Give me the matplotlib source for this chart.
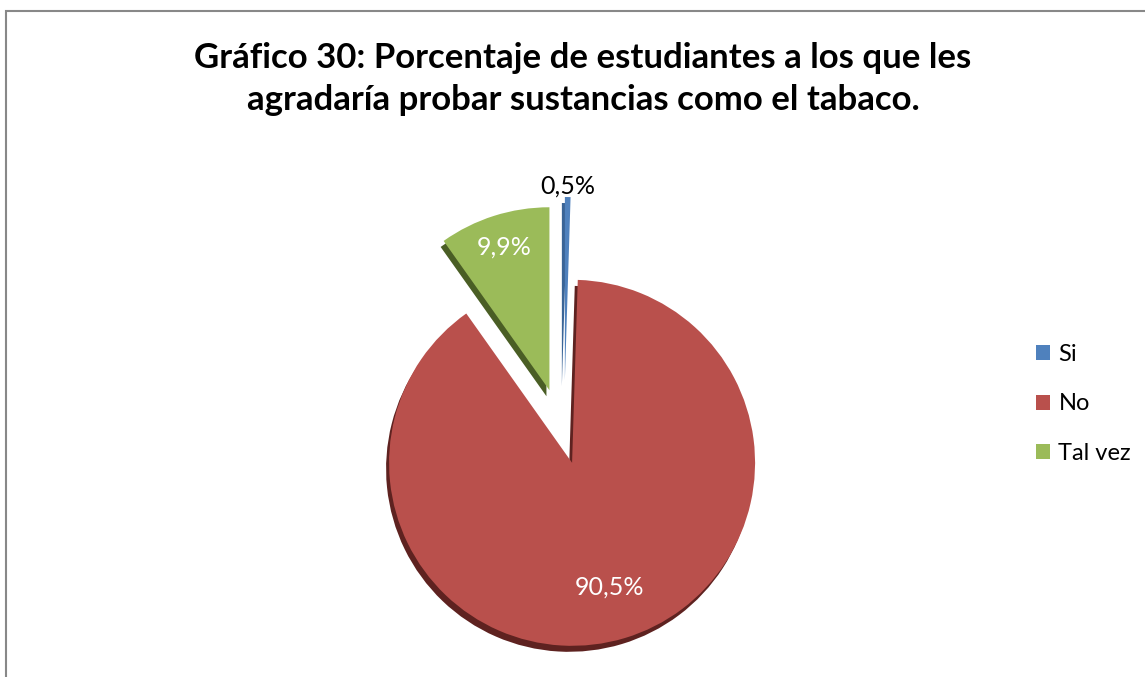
import numpy as np
import matplotlib.pyplot as plt
from matplotlib.patches import Rectangle

plt.rcParams['font.family'] = ['Lato', 'DejaVu Sans']

categories = ['Si', 'No', 'Tal vez']
values = [0.5, 90.5, 9.9]
labels = ['0,5%', '90,5%', '9,9%']
colors = ['#4F81BD', '#B9504C', '#9BBB59']
side_colors = ['#3A6496', '#5E2220', '#4A5E25']
explode = [56, 28, 48]          # in pixels
label_dist = [1.06, 0.71, 0.82]
label_colors = ['black', 'white', 'white']
title = 'Gráfico 30: Porcentaje de estudiantes a los que les\nagradaría probar sustancias como el tabaco.'

W, H = 1145, 677
fig = plt.figure(figsize=(W / 100, H / 100), dpi=100)
ax = fig.add_axes([0, 0, 1, 1])

center = (564, H - 436)
r = 183

# darker copy underneath for the 3d edge
ax.pie(values, colors=side_colors, explode=explode, radius=r,
       center=(center[0] - 3, center[1] - 6), startangle=90, counterclock=False,
       wedgeprops=dict(linewidth=0), frame=True)
wedges, _ = ax.pie(values, colors=colors, explode=explode, radius=r, center=center,
                   startangle=90, counterclock=False,
                   wedgeprops=dict(linewidth=0), frame=True)

for w, lab, d, c in zip(wedges, labels, label_dist, label_colors):
    thm = np.deg2rad((w.theta1 + w.theta2) / 2)
    cx, cy = w.center
    ax.text(cx + d * r * np.cos(thm), cy + d * r * np.sin(thm), lab,
            ha='center', va='center', fontsize=18, color=c)

ax.set_xlim(0, W)
ax.set_ylim(0, H)
ax.axis('off')

fig.text(583 / W, 1 - 79 / H, title, ha='center', va='center', fontsize=25,
         fontweight='bold', linespacing=1.4)

leg = fig.legend(wedges, categories, loc='center left', bbox_to_anchor=(1036 / W, 1 - 404 / H),
                 frameon=False, fontsize=17, handlelength=0.6, handleheight=0.6,
                 handletextpad=0.35, labelspacing=1.2, borderpad=0, borderaxespad=0)

fig.patches.append(Rectangle((6 / W, -0.1), 1.2, 1 - 10.5 / H + 0.1, transform=fig.transFigure,
                             fill=False, edgecolor='#888888', linewidth=1.5))

fig.savefig('out.png', dpi=100)
